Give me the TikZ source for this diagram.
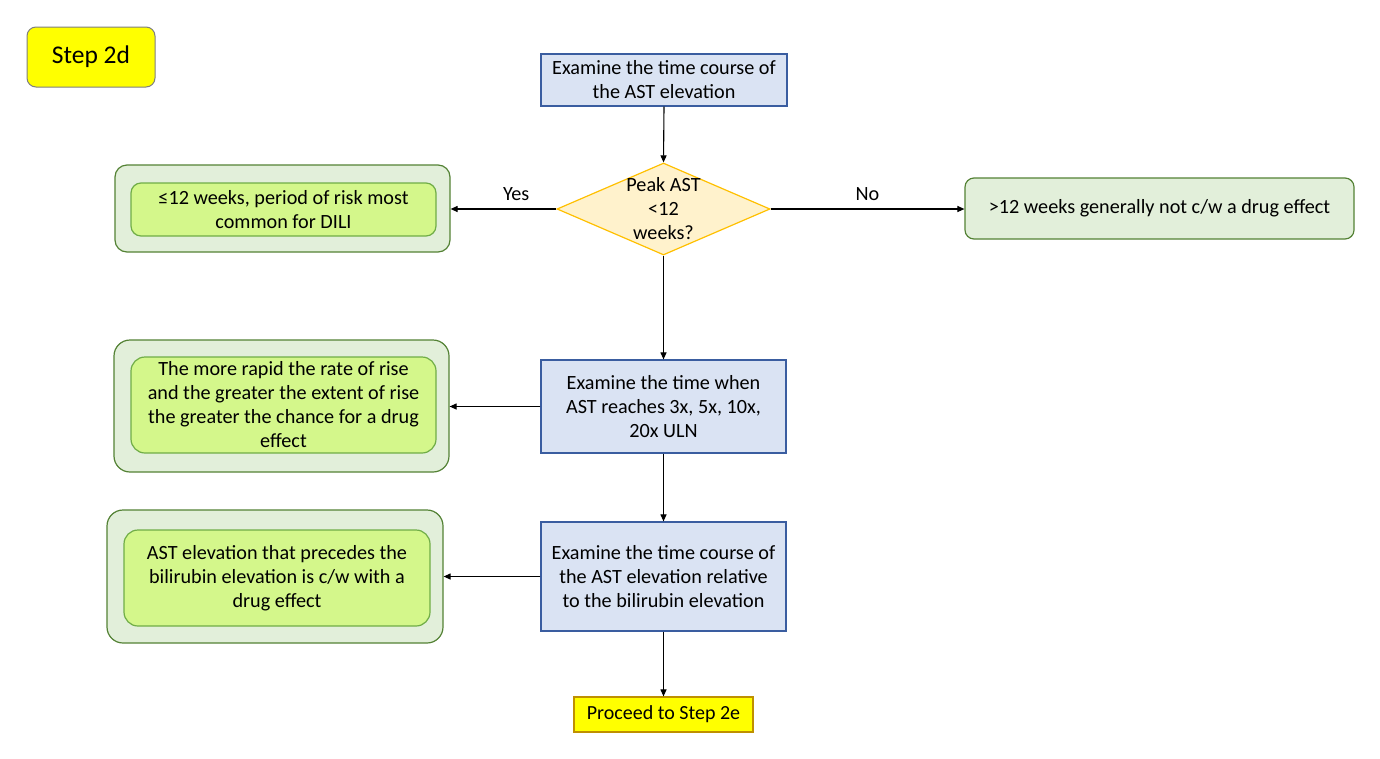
\documentclass[tikz,border=0pt]{standalone}
\usepackage{fontspec}
\setmainfont{Carlito}
\usetikzlibrary{shapes.geometric,arrows.meta}
\definecolor{stepy}{HTML}{FFFF00}
\definecolor{stepgray}{HTML}{7F7F7F}
\definecolor{bluefill}{HTML}{DAE3F3}
\definecolor{blueline}{HTML}{3A5DA0}
\definecolor{dfill}{HTML}{FFF2CC}
\definecolor{dline}{HTML}{FFC000}
\definecolor{gofill}{HTML}{E2EFDA}
\definecolor{goline}{HTML}{548235}
\definecolor{gifill}{HTML}{D4F78B}
\definecolor{giline}{HTML}{70AD47}
\definecolor{pline}{HTML}{BF9000}
\begin{document}
\begin{tikzpicture}[x=1pt,y=-1pt,
  txt/.style={font=\fontsize{20.2}{24}\selectfont, align=center},
  bluebox/.style={draw=blueline, fill=bluefill, line width=1.2pt, inner sep=0pt, txt},
  outerbox/.style={draw=goline, fill=gofill, line width=1.2pt, rounded corners=12pt, inner sep=0pt},
  innerbox/.style={draw=giline, fill=gifill, line width=1.2pt, rounded corners=10pt, inner sep=0pt, txt},
  arr/.style={-{Triangle[length=7pt,width=6pt]}, line width=1.1pt, black},
  lbl/.style={font=\fontsize{20.2}{24}\selectfont}
]
\useasboundingbox (0,0) rectangle (1380,758);
\fill[white] (0,0) rectangle (1380,758);

\node[draw=stepgray, fill=stepy, line width=1pt, rounded corners=9pt, minimum width=128, minimum height=60, inner sep=0pt, font=\fontsize{25.5}{30}\selectfont] (step) at (91,57) {Step 2d};

\node[bluebox, minimum width=246, minimum height=52] (b1) at (664,80) {Examine the time course of\\the AST elevation};

\node[diamond, draw=dline, fill=dfill, line width=1.2pt, minimum width=213, minimum height=92, inner sep=0pt] (d) at (663.5,209) {};
\node[txt] (dt) at (d.center) {Peak AST\\<12\\weeks?};

\node[outerbox, minimum width=335, minimum height=87] (o1) at (282.5,208.5) {};
\node[innerbox, minimum width=305, minimum height=53] (i1) at (283.5,209.5) {≤12 weeks, period of risk most\\common for DILI};

\node[outerbox, rounded corners=9pt, minimum width=389, minimum height=61, txt] (r) at (1159.5,208.5) {>12 weeks generally not c/w a drug effect};

\node[bluebox, minimum width=245, minimum height=93] (b2) at (663.5,406.5) {Examine the time when\\AST reaches 3x, 5x, 10x,\\20x ULN};

\node[outerbox, rounded corners=16pt, minimum width=335, minimum height=132] (o2) at (281.5,406) {};
\node[innerbox, rounded corners=14pt, minimum width=305, minimum height=96] (i2) at (283.5,405) {The more rapid the rate of rise\\and the greater the extent of rise\\the greater the chance for a drug\\effect};

\node[bluebox, minimum width=245, minimum height=109] (b3) at (663.5,576.5) {Examine the time course of\\the AST elevation relative\\to the bilirubin elevation};

\node[outerbox, rounded corners=16pt, minimum width=336, minimum height=133] (o3) at (275,576.5) {};
\node[innerbox, rounded corners=14pt, minimum width=306, minimum height=96] (i3) at (277,578) {AST elevation that precedes the\\bilirubin elevation is c/w with a\\drug effect};

\node[draw=pline, fill=stepy, line width=1.2pt, minimum width=179, minimum height=35, inner sep=0pt, font=\fontsize{20}{24}\selectfont] (p) at (663.5,714.5) {Proceed to Step 2e};

\draw[arr] (b1.south) -- (d.north);
\draw[arr] (d.west) -- (d.west -| o1.east) node[lbl, pos=0.38, above=4pt] (yes) {Yes};
\draw[arr] (d.east) -- (d.east -| r.west) node[lbl, pos=0.5, above=4pt] (no) {No};
\draw[arr] (d.south) -- (b2.north);
\draw[arr] (b2.west) -- (b2.west -| o2.east);
\draw[arr] (b2.south) -- (b3.north);
\draw[arr] (b3.west) -- (b3.west -| o3.east);
\draw[arr] (b3.south) -- (p.north);
\end{tikzpicture}
\end{document}
